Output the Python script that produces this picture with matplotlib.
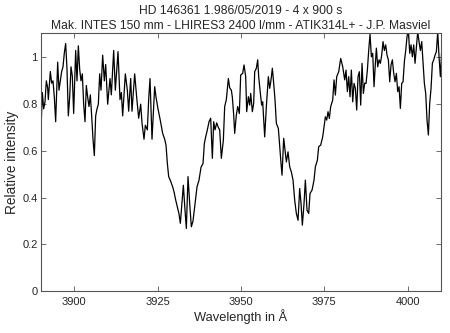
import matplotlib
matplotlib.use("Agg")
import matplotlib.pyplot as plt

plt.rcParams['font.family'] = ['Liberation Sans', 'DejaVu Sans']

wavelength = [
    3890.1, 3890.4, 3890.8, 3891.2, 3891.6, 3892.0, 3892.2, 3892.8, 3893.2, 3893.6,
    3894.0, 3894.4, 3895.0, 3895.4, 3895.8, 3896.2, 3896.6, 3897.0, 3897.4, 3897.8,
    3898.2, 3898.6, 3899.0, 3899.4, 3899.8, 3900.4, 3900.8, 3901.2, 3901.6, 3902.0,
    3902.4, 3902.8, 3903.2, 3903.6, 3904.0, 3904.4, 3904.8, 3905.2, 3905.6, 3906.0,
    3906.4, 3906.8, 3907.2, 3907.6, 3908.0, 3908.5, 3909.0, 3909.4, 3910.0, 3910.7,
    3911.1, 3911.8, 3912.3, 3913.1, 3913.7, 3914.1, 3914.5, 3915.3, 3915.9, 3916.3,
    3916.9, 3917.3, 3918.1, 3918.7, 3919.3, 3919.9, 3920.3, 3920.9, 3921.3, 3921.9,
    3922.3, 3922.7, 3923.3, 3924.1, 3924.5, 3925.1, 3925.8, 3926.5, 3927.1, 3927.5,
    3927.9, 3928.3, 3928.9, 3929.5, 3929.9, 3930.4, 3930.9, 3931.4, 3931.8, 3932.2,
    3932.7, 3933.2, 3933.6, 3934.1, 3934.6, 3935.1, 3935.6, 3936.2, 3936.8, 3937.4,
    3938.0, 3938.6, 3939.0, 3939.4, 3939.9, 3940.4, 3940.9, 3941.4, 3941.8, 3942.2,
    3942.7, 3943.2, 3943.6, 3944.1, 3944.7, 3945.1, 3945.6, 3946.2, 3946.6, 3947.1,
    3947.4, 3947.8, 3948.1, 3948.6, 3949.0, 3949.5, 3949.9, 3950.5, 3950.9, 3951.4,
    3951.7, 3952.2, 3952.6, 3952.9, 3953.4, 3953.8, 3954.1, 3954.6, 3955.0, 3955.3,
    3955.8, 3956.2, 3956.5, 3957.1, 3957.6, 3958.2, 3958.6, 3959.0, 3959.4, 3959.8,
    3960.2, 3960.6, 3961.2, 3961.6, 3962.0, 3962.3, 3962.8, 3963.2, 3963.6, 3964.1,
    3964.6, 3965.1, 3965.6, 3966.1, 3966.6, 3967.1, 3967.6, 3968.0, 3968.4, 3968.9,
    3969.3, 3969.8, 3970.3, 3970.7, 3971.3, 3971.9, 3972.3, 3972.9, 3973.3, 3973.9,
    3974.5, 3974.9, 3975.3, 3975.7, 3976.1, 3976.5, 3976.9, 3977.5, 3977.9, 3978.3,
    3978.7, 3979.3, 3979.9, 3980.5, 3981.1, 3981.5, 3981.9, 3982.3, 3982.7, 3983.1,
    3983.5, 3983.9, 3984.3, 3984.7, 3985.1, 3985.5, 3985.9, 3986.3, 3986.7, 3987.1,
    3987.5, 3987.9, 3988.3, 3988.7, 3989.1, 3989.5, 3989.9, 3990.3, 3990.6, 3991.0,
    3991.4, 3991.8, 3992.2, 3992.6, 3993.0, 3993.4, 3993.8, 3994.2, 3994.6, 3995.0,
    3995.4, 3995.8, 3996.2, 3996.6, 3997.0, 3997.4, 3997.8, 3998.2, 3998.6, 3999.0,
    3999.4, 3999.8, 4000.2, 4000.6, 4001.0, 4001.4, 4001.8, 4002.2, 4002.6, 4003.0,
    4003.4, 4003.8, 4004.2, 4004.6, 4005.0, 4005.4, 4005.8, 4006.2, 4006.6, 4007.0,
    4007.4, 4007.8, 4008.2, 4008.6, 4009.0, 4009.4, 4009.8, 4010.2,
]

intensity = [
    0.73, 0.85, 0.78, 0.81, 0.90, 0.87, 0.82, 0.94, 0.89, 0.90,
    0.83, 0.725, 0.98, 0.86, 0.90, 0.94, 0.96, 1.02, 1.06, 0.95,
    0.75, 0.83, 0.96, 0.92, 0.76, 1.03, 0.90, 1.05, 0.95, 0.90,
    0.93, 0.80, 0.725, 0.88, 0.83, 0.79, 0.84, 0.75, 0.65, 0.58,
    0.75, 0.78, 0.80, 0.93, 0.86, 1.01, 0.90, 0.97, 0.80, 0.91,
    0.84, 1.03, 0.86, 1.025, 0.82, 0.85, 0.75, 0.93, 0.86, 0.77,
    0.91, 0.77, 0.93, 0.83, 0.74, 0.80, 0.72, 0.65, 0.71, 0.69,
    0.82, 0.91, 0.65, 0.875, 0.83, 0.78, 0.73, 0.675, 0.65, 0.625,
    0.547, 0.49, 0.47, 0.446, 0.425, 0.39, 0.36, 0.33, 0.29, 0.36,
    0.453, 0.346, 0.268, 0.49, 0.375, 0.275, 0.30, 0.375, 0.446, 0.475,
    0.53, 0.546, 0.632, 0.66, 0.69, 0.725, 0.74, 0.568, 0.725, 0.69,
    0.72, 0.70, 0.69, 0.568, 0.646, 0.79, 0.82, 0.91, 0.87, 0.86,
    0.83, 0.754, 0.675, 0.754, 0.79, 0.76, 0.925, 0.932, 0.968, 0.918,
    0.768, 0.832, 0.796, 0.846, 0.768, 0.804, 0.939, 0.954, 0.99, 0.918,
    0.846, 0.796, 0.81, 0.66, 0.79, 0.918, 0.868, 0.904, 0.954, 0.889,
    0.818, 0.718, 0.696, 0.618, 0.546, 0.496, 0.654, 0.604, 0.553, 0.596,
    0.532, 0.51, 0.475, 0.389, 0.332, 0.303, 0.439, 0.375, 0.282, 0.375,
    0.475, 0.346, 0.332, 0.418, 0.432, 0.475, 0.532, 0.56, 0.618, 0.625,
    0.66, 0.703, 0.746, 0.732, 0.768, 0.739, 0.79, 0.818, 0.904, 0.839,
    0.918, 0.939, 0.996, 0.961, 0.904, 0.946, 0.854, 0.918, 0.832, 0.946,
    0.81, 0.889, 0.868, 0.775, 0.918, 0.939, 0.796, 0.975, 0.846, 0.89,
    0.889, 0.946, 1.03, 1.10, 1.003, 1.018, 0.875, 0.975, 1.04, 0.96,
    0.99, 0.975, 1.01, 1.068, 1.03, 1.054, 1.01, 0.99, 0.896, 0.968,
    0.99, 0.932, 0.896, 0.932, 0.854, 0.875, 0.782, 0.889, 0.896, 0.982,
    1.03, 1.09, 1.12, 1.018, 1.054, 1.003, 1.054, 0.975, 1.04, 1.11,
    1.068, 1.03, 1.068, 0.975, 0.889, 0.846, 0.732, 0.668, 0.804, 0.868,
    0.975, 0.99, 1.01, 1.025, 1.11, 1.003, 0.918, 1.03,
]

x_ticks = [3900, 3925, 3950, 3975, 4000]
y_ticks = [0, 0.2, 0.4, 0.6, 0.8, 1.0]
y_tick_labels = ['0', '0.2', '0.4', '0.6', '0.8', '1']

title_lines = [
    'HD 146361 1.986/05/2019 - 4 x 900 s',
    'Mak. INTES 150 mm - LHIRES3 2400 l/mm - ATIK314L+ - J.P. Masviel',
]

fig = plt.figure(figsize=(4.5, 3.33), dpi=100)
ax = fig.add_axes([0.0911, 0.126, 0.889, 0.775])

ax.plot(wavelength, intensity, color='black', linewidth=0.9)

ax.set_xlim(3890, 4010)
ax.set_ylim(0, 1.105)
ax.set_xticks(x_ticks)
ax.set_yticks(y_ticks)
ax.set_yticklabels(y_tick_labels)

axis_color = '#555555'
for spine in ax.spines.values():
    spine.set_color(axis_color)
    spine.set_linewidth(0.8)
ax.tick_params(direction='in', top=True, right=True, length=3.5,
               width=0.6, color=axis_color, labelsize=8, labelcolor='#262626')
ax.tick_params(axis='x', pad=4)
ax.tick_params(axis='y', pad=2.5)

ax.set_xlabel('Wavelength in Å', fontsize=9.3, color='#262626', labelpad=2)
ax.set_ylabel('Relative intensity', fontsize=9.8, color='#262626', labelpad=2)
ax.set_title('\n'.join(title_lines), fontsize=8.7, color='#262626',
             linespacing=1.35, pad=3)

fig.savefig('out.png', dpi=100)
